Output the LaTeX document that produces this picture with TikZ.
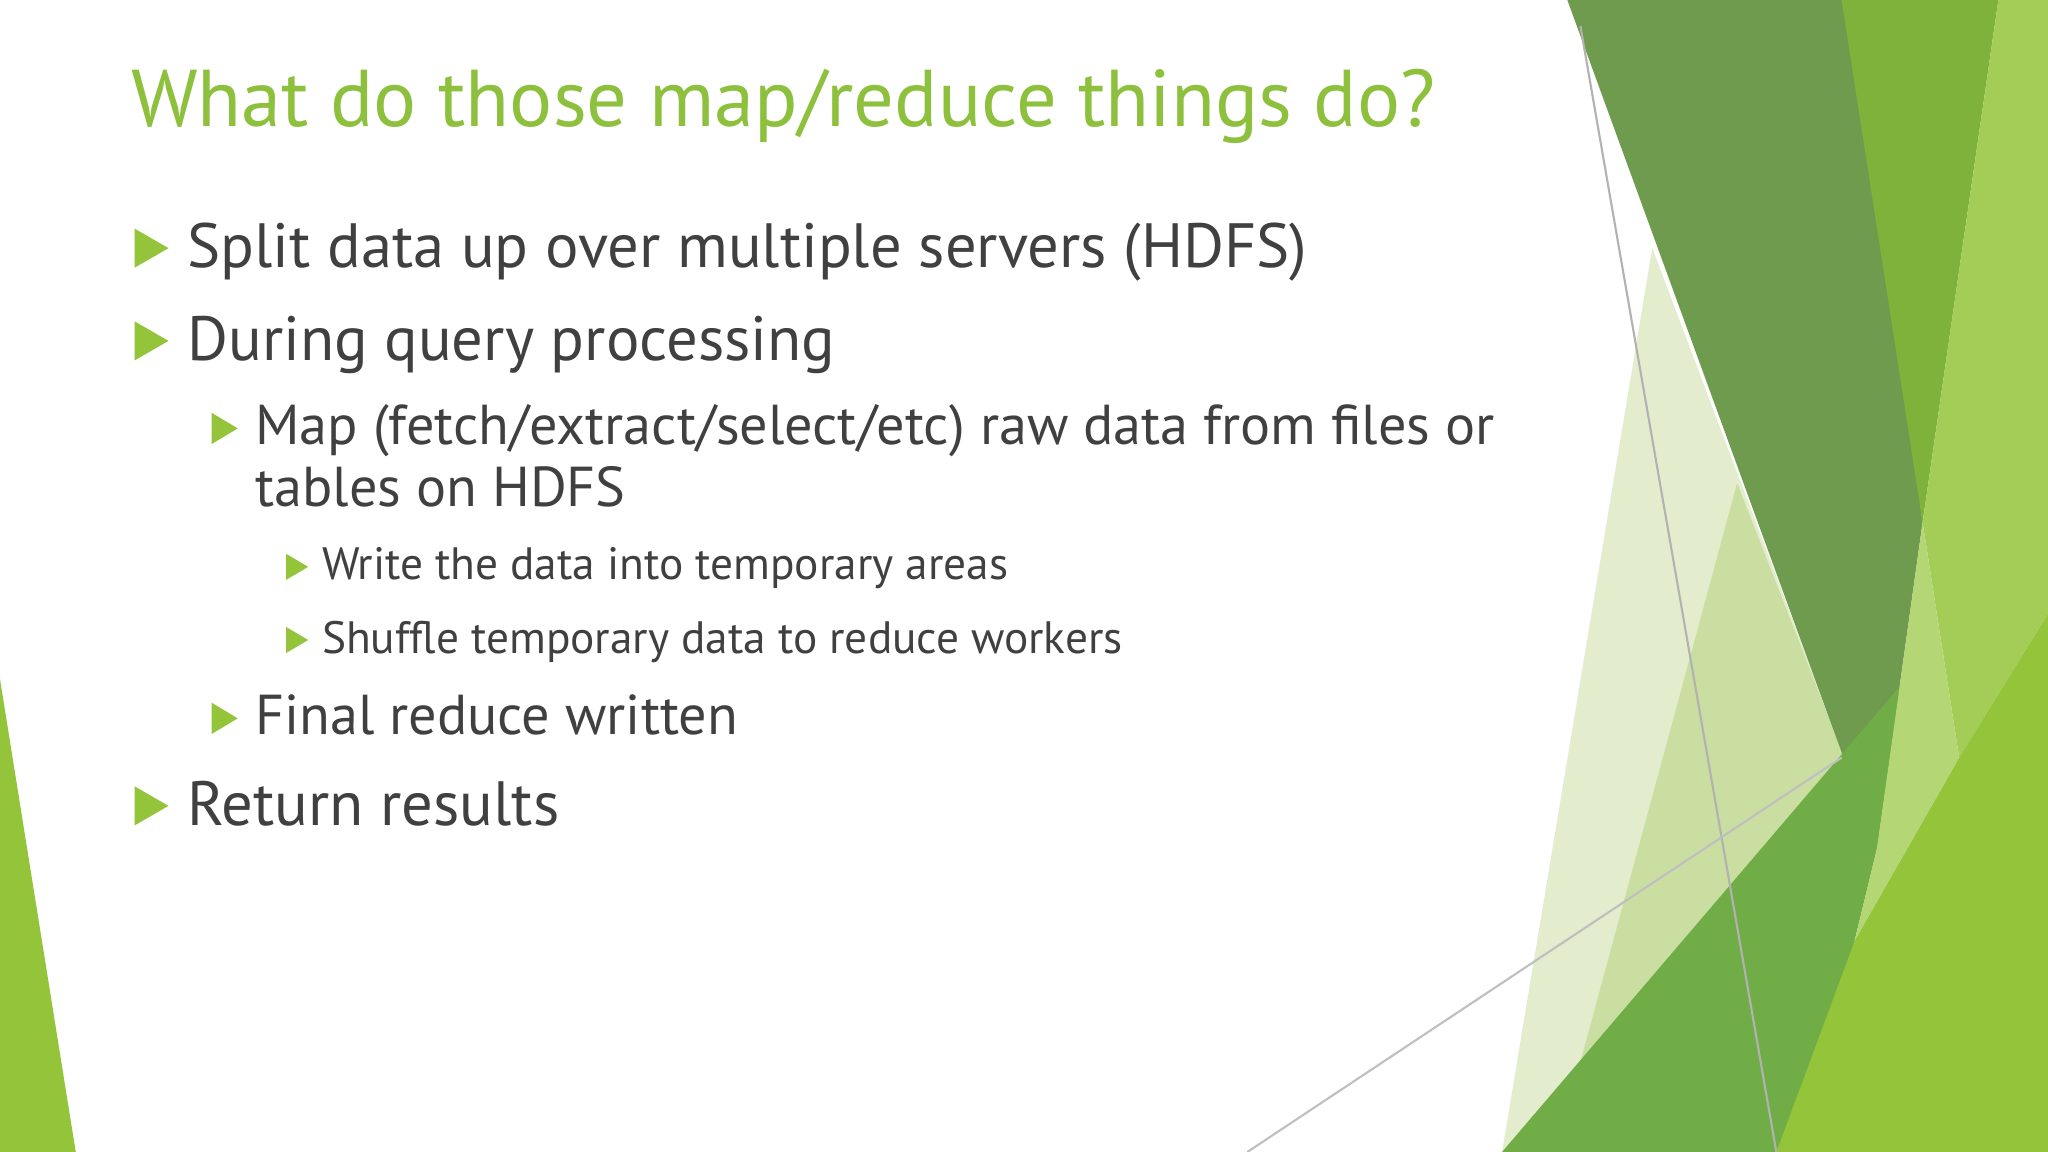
\documentclass[tikz,border=0pt]{standalone}
\usepackage{fontspec}
\setmainfont{PT Sans}
\definecolor{titleg}{HTML}{8DC03C}
\definecolor{bodyc}{HTML}{404040}
\definecolor{darkg}{HTML}{6E9B4E}
\definecolor{midg}{HTML}{7FB23A}
\definecolor{brg}{HTML}{93C43A}
\definecolor{paleg}{HTML}{E3EDCD}
\definecolor{pale2}{HTML}{C9DEA0}
\definecolor{grn}{HTML}{70AD47}
\begin{document}
\begin{tikzpicture}[x=0.01306cm,y=-0.01306cm,
  tri/.style={fill=brg},
  l1/.style={anchor=base west,text=bodyc,font=\fontsize{17.8}{22}\selectfont,inner sep=0},
  l2/.style={anchor=base west,text=bodyc,font=\fontsize{16}{18}\selectfont,inner sep=0,align=left},
  l3/.style={anchor=base west,text=bodyc,font=\fontsize{12.9}{15}\selectfont,inner sep=0}]
\useasboundingbox (0,0) rectangle (1568,882);
\fill[white] (0,0) rectangle (1568,882);
% right decoration
\fill[paleg] (1265,190) -- (1420,600) -- (1180,882) -- (1150,882) -- cycle;
\fill[pale2] (1330,370) -- (1420,600) -- (1200,850) -- cycle;
\fill[darkg] (1200,0) -- (1420,0) -- (1472,400) -- (1437,650) -- cycle;
\fill[midg] (1410,0) -- (1530,0) -- (1472,400) -- cycle;
\fill[brg!85!white] (1530,0) -- (1568,0) -- (1568,470) -- (1500,580) -- (1472,400) -- cycle;
\fill[brg] (1340,882) -- (1420,720) -- (1500,580) -- (1568,470) -- (1568,882) -- cycle;
\fill[grn] (1150,882) -- (1455,525) -- (1437,650) -- (1420,720) -- (1360,882) -- cycle;
\fill[brg!70!white] (1472,400) -- (1500,580) -- (1420,720) -- (1437,650) -- cycle;
\draw[gray!60,line width=0.6pt] (1210,20) -- (1360,882);
\draw[gray!50,line width=0.6pt] (955,882) -- (1410,580);
% left
\fill[brg] (0,520) -- (0,882) -- (58,882) -- cycle;
% title
\node[anchor=base west,inner sep=0,text=titleg,font=\fontsize{22.9}{28}\selectfont] (title) at (100,97) {What do those map/reduce things do?};
% bullets
\foreach \y in {205,276,632}{\fill[tri] (103,\y-30) -- (129,\y-15) -- (103,\y) -- cycle;}
\foreach \y in {340,562}{\fill[tri] (162,\y-24) -- (182,\y-12) -- (162,\y) -- cycle;}
\foreach \y in {444,500}{\fill[tri] (219,\y-20) -- (236,\y-10) -- (219,\y) -- cycle;}
\node[l1] (a) at (143,205) {Split data up over multiple servers (HDFS)};
\node[l1] (b) at (143,276) {During query processing};
\node[l2] (c) at (195,340) {Map (fetch/extract/select/etc) raw data from files or};
\node[l2] (c2) at (195,388) {tables on HDFS};
\node[l3] (d) at (246,444) {Write the data into temporary areas};
\node[l3] (e) at (246,500) {Shuffle temporary data to reduce workers};
\node[l2] (f) at (195,562) {Final reduce written};
\node[l1] (g) at (143,632) {Return results};
\end{tikzpicture}
\end{document}
